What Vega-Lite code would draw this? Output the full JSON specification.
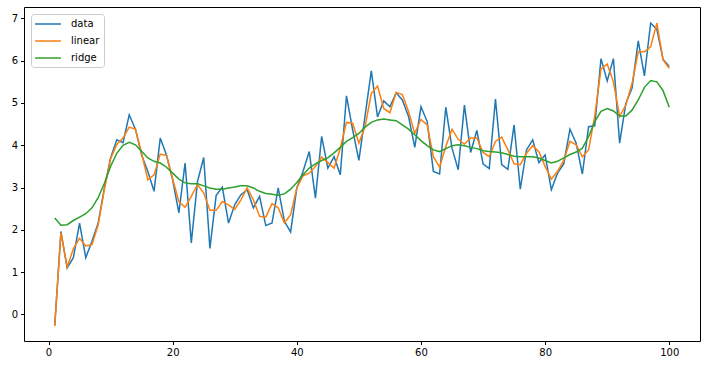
{
  "$schema": "https://vega.github.io/schema/vega-lite/v6.json",
  "autosize": "none",
  "width": 676,
  "height": 334,
  "padding": {"left": 24, "top": 7, "right": 5, "bottom": 30},
  "background": "white",
  "config": {
    "view": {"stroke": "#000", "strokeWidth": 1},
    "font": "DejaVu Sans",
    "axis": {"domain": false, "grid": false, "tickColor": "#000", "tickSize": 3.5, "labelColor": "#000", "labelFontSize": 10, "labelFont": "DejaVu Sans", "labelPadding": 3, "title": null}
  },
  "data": {"values": [
    {"x":1,"data":-0.27,"linear":-0.27,"ridge":2.28},
    {"x":2,"data":1.96,"linear":1.93,"ridge":2.11},
    {"x":3,"data":1.10,"linear":1.12,"ridge":2.12},
    {"x":4,"data":1.34,"linear":1.55,"ridge":2.22},
    {"x":5,"data":2.16,"linear":1.80,"ridge":2.30},
    {"x":6,"data":1.34,"linear":1.62,"ridge":2.38},
    {"x":7,"data":1.73,"linear":1.65,"ridge":2.52},
    {"x":8,"data":2.16,"linear":2.12,"ridge":2.76},
    {"x":9,"data":2.99,"linear":2.95,"ridge":3.10},
    {"x":10,"data":3.70,"linear":3.68,"ridge":3.50},
    {"x":11,"data":4.13,"linear":4.02,"ridge":3.81},
    {"x":12,"data":4.06,"linear":4.17,"ridge":4.00},
    {"x":13,"data":4.72,"linear":4.43,"ridge":4.07},
    {"x":14,"data":4.38,"linear":4.38,"ridge":4.01},
    {"x":15,"data":3.77,"linear":3.81,"ridge":3.86},
    {"x":16,"data":3.38,"linear":3.18,"ridge":3.70},
    {"x":17,"data":2.91,"linear":3.30,"ridge":3.62},
    {"x":18,"data":4.17,"linear":3.79,"ridge":3.58},
    {"x":19,"data":3.77,"linear":3.76,"ridge":3.48},
    {"x":20,"data":3.18,"linear":3.20,"ridge":3.34},
    {"x":21,"data":2.40,"linear":2.67,"ridge":3.20},
    {"x":22,"data":3.58,"linear":2.53,"ridge":3.11},
    {"x":23,"data":1.69,"linear":2.79,"ridge":3.09},
    {"x":24,"data":3.14,"linear":3.07,"ridge":3.09},
    {"x":25,"data":3.71,"linear":2.87,"ridge":3.04},
    {"x":26,"data":1.56,"linear":2.46,"ridge":2.99},
    {"x":27,"data":2.81,"linear":2.46,"ridge":2.96},
    {"x":28,"data":3.01,"linear":2.67,"ridge":2.96},
    {"x":29,"data":2.16,"linear":2.59,"ridge":2.99},
    {"x":30,"data":2.59,"linear":2.48,"ridge":3.01},
    {"x":31,"data":2.83,"linear":2.71,"ridge":3.04},
    {"x":32,"data":2.95,"linear":2.99,"ridge":3.04},
    {"x":33,"data":2.52,"linear":2.71,"ridge":2.99},
    {"x":34,"data":2.79,"linear":2.32,"ridge":2.91},
    {"x":35,"data":2.10,"linear":2.30,"ridge":2.86},
    {"x":36,"data":2.16,"linear":2.62,"ridge":2.84},
    {"x":37,"data":2.99,"linear":2.52,"ridge":2.82},
    {"x":38,"data":2.20,"linear":2.16,"ridge":2.85},
    {"x":39,"data":1.95,"linear":2.36,"ridge":2.96},
    {"x":40,"data":2.99,"linear":2.99,"ridge":3.12},
    {"x":41,"data":3.38,"linear":3.28,"ridge":3.30},
    {"x":42,"data":3.85,"linear":3.34,"ridge":3.46},
    {"x":43,"data":2.75,"linear":3.50,"ridge":3.56},
    {"x":44,"data":4.21,"linear":3.72,"ridge":3.64},
    {"x":45,"data":3.46,"linear":3.59,"ridge":3.70},
    {"x":46,"data":3.73,"linear":3.46,"ridge":3.82},
    {"x":47,"data":3.30,"linear":3.93,"ridge":3.95},
    {"x":48,"data":5.17,"linear":4.54,"ridge":4.09},
    {"x":49,"data":4.36,"linear":4.52,"ridge":4.18},
    {"x":50,"data":3.64,"linear":4.05,"ridge":4.28},
    {"x":51,"data":4.70,"linear":4.44,"ridge":4.43},
    {"x":52,"data":5.76,"linear":5.23,"ridge":4.54},
    {"x":53,"data":4.67,"linear":5.40,"ridge":4.60},
    {"x":54,"data":5.05,"linear":4.87,"ridge":4.62},
    {"x":55,"data":4.91,"linear":4.77,"ridge":4.60},
    {"x":56,"data":5.24,"linear":5.25,"ridge":4.58},
    {"x":57,"data":5.07,"linear":5.20,"ridge":4.48},
    {"x":58,"data":4.68,"linear":4.80,"ridge":4.38},
    {"x":59,"data":3.95,"linear":4.28,"ridge":4.25},
    {"x":60,"data":4.91,"linear":4.61,"ridge":4.11},
    {"x":61,"data":4.56,"linear":4.48,"ridge":3.99},
    {"x":62,"data":3.38,"linear":3.73,"ridge":3.89},
    {"x":63,"data":3.32,"linear":3.48,"ridge":3.85},
    {"x":64,"data":4.90,"linear":3.97,"ridge":3.92},
    {"x":65,"data":3.93,"linear":4.38,"ridge":3.99},
    {"x":66,"data":3.42,"linear":4.14,"ridge":4.01},
    {"x":67,"data":4.95,"linear":4.03,"ridge":3.99},
    {"x":68,"data":3.83,"linear":4.17,"ridge":3.95},
    {"x":69,"data":4.35,"linear":4.17,"ridge":3.92},
    {"x":70,"data":3.56,"linear":3.83,"ridge":3.87},
    {"x":71,"data":3.45,"linear":3.73,"ridge":3.85},
    {"x":72,"data":5.09,"linear":4.09,"ridge":3.84},
    {"x":73,"data":3.54,"linear":4.19,"ridge":3.82},
    {"x":74,"data":3.43,"linear":3.89,"ridge":3.78},
    {"x":75,"data":4.48,"linear":3.56,"ridge":3.74},
    {"x":76,"data":2.96,"linear":3.54,"ridge":3.73},
    {"x":77,"data":3.89,"linear":3.81,"ridge":3.73},
    {"x":78,"data":4.13,"linear":3.99,"ridge":3.73},
    {"x":79,"data":3.59,"linear":3.85,"ridge":3.70},
    {"x":80,"data":3.77,"linear":3.50,"ridge":3.64},
    {"x":81,"data":2.95,"linear":3.20,"ridge":3.58},
    {"x":82,"data":3.34,"linear":3.38,"ridge":3.62},
    {"x":83,"data":3.56,"linear":3.64,"ridge":3.70},
    {"x":84,"data":4.38,"linear":4.09,"ridge":3.78},
    {"x":85,"data":4.05,"linear":4.01,"ridge":3.84},
    {"x":86,"data":3.32,"linear":3.73,"ridge":3.93},
    {"x":87,"data":4.44,"linear":3.89,"ridge":4.20},
    {"x":88,"data":4.46,"linear":4.70,"ridge":4.56},
    {"x":89,"data":6.05,"linear":5.80,"ridge":4.80},
    {"x":90,"data":5.52,"linear":5.92,"ridge":4.87},
    {"x":91,"data":6.05,"linear":5.50,"ridge":4.81},
    {"x":92,"data":4.05,"linear":4.68,"ridge":4.69},
    {"x":93,"data":4.99,"linear":4.95,"ridge":4.69},
    {"x":94,"data":5.35,"linear":5.46,"ridge":4.83},
    {"x":95,"data":6.47,"linear":6.21,"ridge":5.07},
    {"x":96,"data":5.64,"linear":6.21,"ridge":5.37},
    {"x":97,"data":6.89,"linear":6.33,"ridge":5.53},
    {"x":98,"data":6.74,"linear":6.89,"ridge":5.50},
    {"x":99,"data":6.03,"linear":6.02,"ridge":5.29},
    {"x":100,"data":5.86,"linear":5.82,"ridge":4.90}
  ]},
  "transform": [{"fold": ["data", "linear", "ridge"], "as": ["series", "value"]}],
  "mark": {"type": "line", "strokeWidth": 1.5, "clip": true},
  "encoding": {
    "x": {"field": "x", "type": "quantitative", "scale": {"domain": [-3.95, 104.95], "nice": false, "zero": false}, "axis": {"values": [0, 20, 40, 60, 80, 100]}},
    "y": {"field": "value", "type": "quantitative", "scale": {"domain": [-0.63, 7.27], "nice": false, "zero": false}, "axis": {"values": [0, 1, 2, 3, 4, 5, 6, 7]}},
    "color": {
      "field": "series", "type": "nominal",
      "scale": {"domain": ["data", "linear", "ridge"], "range": ["#1f77b4", "#ff7f0e", "#2ca02c"]},
      "legend": {"title": null, "orient": "top-left", "offset": 7, "symbolType": "M-2.6,0H2.6", "symbolSize": 100, "symbolStrokeWidth": 1.5, "symbolOffset": 7, "labelFontSize": 10, "labelFont": "DejaVu Sans", "labelColor": "#000", "labelOffset": 17, "fillColor": "white", "strokeColor": "#cccccc", "cornerRadius": 3, "padding": 4, "rowPadding": 6}
    },
    "order": {"field": "x", "type": "quantitative"}
  }
}
